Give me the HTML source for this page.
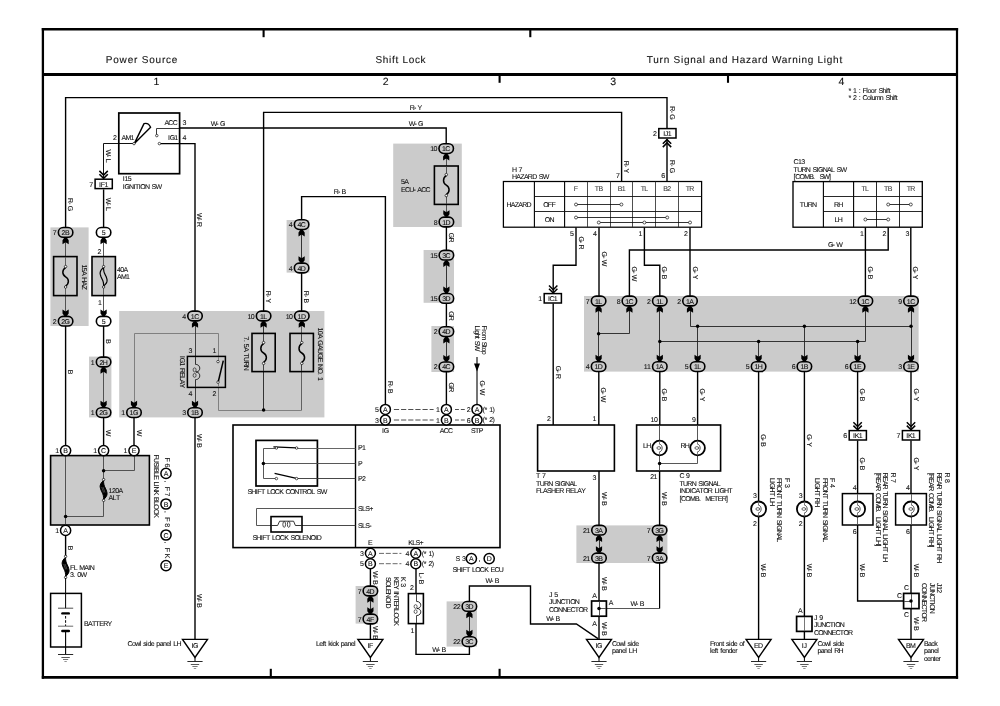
<!DOCTYPE html>
<html lang="en">
<head>
<meta charset="utf-8">
<title>Wiring Diagram - Power Source, Shift Lock, Turn Signal and Hazard Warning Light</title>
<style>
html,body{margin:0;padding:0;background:#fff;}
body{width:1000px;height:706px;overflow:hidden;}
svg{display:block;will-change:transform;}
svg text{font-family:"Liberation Sans",Arial,Helvetica,sans-serif;fill:#111;stroke:#111;stroke-width:0.1px;white-space:pre;}
svg text.h{stroke-width:0.1px;}
</style>
</head>
<body>
<svg width="1000" height="706" viewBox="0 0 1000 706" text-rendering="geometricPrecision">
<rect x="0" y="0" width="1000" height="706" fill="#fff"/>
<g id="frame">
<path d="M42.90 28.10 L42.90 678.70" fill="none" stroke="#000" stroke-width="2.3" />
<path d="M957.00 28.10 L957.00 678.70" fill="none" stroke="#000" stroke-width="2.2" />
<path d="M41.80 29.30 L958.10 29.30" fill="none" stroke="#000" stroke-width="2.5" />
<path d="M41.80 677.40 L958.10 677.40" fill="none" stroke="#000" stroke-width="2.6" />
<path d="M43.00 74.50 L957.00 74.50" fill="none" stroke="#000" stroke-width="2.8" />
<path d="M263.60 29.40 L263.60 37.20" fill="none" stroke="#000" stroke-width="2.1" />
<path d="M530.30 29.40 L530.30 37.20" fill="none" stroke="#000" stroke-width="2.1" />
<path d="M499.60 74.40 L499.60 82.80" fill="none" stroke="#000" stroke-width="2.1" />
<path d="M728.00 74.40 L728.00 82.80" fill="none" stroke="#000" stroke-width="2.1" />
<path d="M270.80 668.80 L270.80 677.00" fill="none" stroke="#000" stroke-width="2.1" />
<path d="M499.60 668.80 L499.60 677.00" fill="none" stroke="#000" stroke-width="2.1" />
<text font-size="10" x="105.80" y="63.30" textLength="71.60" class="h">Power Source</text>
<text font-size="10" x="375.40" y="63.30" textLength="50.20" class="h">Shift Lock</text>
<text font-size="10" x="646.80" y="63.30" textLength="195.40" class="h">Turn Signal and Hazard Warning Light</text>
<text font-size="10.5" x="153.48" y="85.20" >1</text>
<text font-size="10.5" x="382.68" y="85.20" >2</text>
<text font-size="10.5" x="610.28" y="85.20" >3</text>
<text font-size="10.5" x="838.48" y="85.20" >4</text>
<text font-size="7" x="848.4 850.72 853.03 856.33 858.64 860.3 862.61 866.24 867.56 870.87 874.18 876.16 878.47 882.44 885.75 887.07 888.73" y="92.60" >* 1 : Floor Shift</text>
<text font-size="7" x="848.4 850.72 853.03 856.33 858.64 860.3 862.61 866.9 870.21 871.54 874.84 879.8 883.11 885.42 889.39 892.7 894.02 895.67" y="99.80" >* 2 : Column Shift</text>
</g>
<g id="blocks">
<rect x="50.40" y="227.40" width="38.20" height="98.60" fill="#cbcbcb"/>
<rect x="89.00" y="356.60" width="22.40" height="60.80" fill="#cbcbcb"/>
<rect x="119.20" y="311.00" width="205.20" height="106.40" fill="#cbcbcb"/>
<rect x="286.60" y="220.00" width="22.80" height="52.60" fill="#cbcbcb"/>
<rect x="393.20" y="143.60" width="68.60" height="83.40" fill="#cbcbcb"/>
<rect x="423.60" y="250.00" width="30.40" height="52.80" fill="#cbcbcb"/>
<rect x="431.40" y="326.00" width="22.60" height="46.00" fill="#cbcbcb"/>
<rect x="584.00" y="296.00" width="334.60" height="75.60" fill="#cbcbcb"/>
<rect x="576.40" y="525.40" width="91.00" height="37.60" fill="#cbcbcb"/>
<rect x="355.60" y="586.00" width="22.40" height="37.60" fill="#cbcbcb"/>
<rect x="446.60" y="601.40" width="30.40" height="45.20" fill="#cbcbcb"/>
</g>
<g id="wires">
<path d="M65.60 228.00 L65.60 97.60 L667.00 97.60 L667.00 128.00" fill="none" stroke="#000" stroke-width="1.4" />
<path d="M667.00 139.00 L667.00 181.40" fill="none" stroke="#000" stroke-width="1.4" />
<path d="M134.00 143.50 L103.50 143.50 L103.50 178.60" fill="none" stroke="#111" stroke-width="1.0" />
<path d="M103.60 189.40 L103.60 228.00" fill="none" stroke="#000" stroke-width="1.4" />
<path d="M103.50 237.00 L103.50 317.00" fill="none" stroke="#444" stroke-width="0.9" />
<path d="M103.60 326.00 L103.60 357.00" fill="none" stroke="#000" stroke-width="1.4" />
<path d="M103.50 367.00 L103.50 408.00" fill="none" stroke="#444" stroke-width="0.9" />
<path d="M103.60 417.00 L103.60 446.00" fill="none" stroke="#000" stroke-width="1.4" />
<path d="M65.50 237.00 L65.50 317.00" fill="none" stroke="#444" stroke-width="0.9" />
<path d="M65.60 326.00 L65.60 446.00" fill="none" stroke="#000" stroke-width="1.4" />
<path d="M156.50 135.00 L156.50 128.50 L180.00 128.50" fill="none" stroke="#222" stroke-width="0.9" />
<path d="M180.00 128.00 L446.20 128.00 L446.20 144.00" fill="none" stroke="#000" stroke-width="1.4" />
<path d="M160.40 143.60 L195.00 143.60 L195.00 311.50" fill="none" stroke="#000" stroke-width="1.4" />
<path d="M263.60 311.50 L263.60 112.40 L621.60 112.40 L621.60 181.40" fill="none" stroke="#000" stroke-width="1.4" />
<path d="M301.60 220.00 L301.60 196.60 L385.40 196.60 L385.40 405.00" fill="none" stroke="#000" stroke-width="1.4" />
<path d="M301.60 272.60 L301.60 311.50" fill="none" stroke="#000" stroke-width="1.4" />
<path d="M301.50 229.00 L301.50 264.00" fill="none" stroke="#222" stroke-width="0.9" />
<path d="M195.00 417.00 L195.00 639.40" fill="none" stroke="#000" stroke-width="1.4" />
<path d="M134.00 417.00 L134.00 446.00" fill="none" stroke="#000" stroke-width="1.4" />
<path d="M446.50 153.00 L446.50 217.00" fill="none" stroke="#444" stroke-width="0.9" />
<path d="M446.40 226.50 L446.40 250.50" fill="none" stroke="#000" stroke-width="1.4" />
<path d="M446.50 260.00 L446.50 294.00" fill="none" stroke="#222" stroke-width="0.9" />
<path d="M446.40 303.00 L446.40 327.00" fill="none" stroke="#000" stroke-width="1.4" />
<path d="M446.50 336.00 L446.50 362.00" fill="none" stroke="#222" stroke-width="0.9" />
<path d="M446.40 371.50 L446.40 405.00" fill="none" stroke="#000" stroke-width="1.4" />
<path d="M477.00 357.00 L477.00 405.00" fill="none" stroke="#000" stroke-width="1.1" />
<polygon points="474,363.4 480,363.4 477,371.4" fill="#000"/>
<path d="M576.00 227.20 L576.00 265.20 L553.20 265.20 L553.20 293.40" fill="none" stroke="#000" stroke-width="1.4" />
<path d="M553.20 303.40 L553.20 425.00" fill="none" stroke="#000" stroke-width="1.4" />
<path d="M599.00 227.20 L599.00 296.40" fill="none" stroke="#000" stroke-width="1.4" />
<path d="M644.40 227.20 L644.40 265.20 L659.80 265.20 L659.80 296.40" fill="none" stroke="#000" stroke-width="1.4" />
<path d="M690.00 227.20 L690.00 296.40" fill="none" stroke="#000" stroke-width="1.4" />
<path d="M888.20 227.20 L888.20 250.00 L629.40 250.00 L629.40 296.40" fill="none" stroke="#000" stroke-width="1.4" />
<path d="M865.40 227.20 L865.40 296.40" fill="none" stroke="#000" stroke-width="1.4" />
<path d="M910.80 227.20 L910.80 296.40" fill="none" stroke="#000" stroke-width="1.4" />
<path d="M598.50 306.00 L598.50 362.00" fill="none" stroke="#222" stroke-width="0.9" />
<path d="M598.60 333.50 L629.50 333.50 L629.50 306.00" fill="none" stroke="#222" stroke-width="0.9" />
<path d="M659.50 306.00 L659.50 362.00" fill="none" stroke="#222" stroke-width="0.9" />
<path d="M659.80 341.50 L865.50 341.50 L865.50 306.00" fill="none" stroke="#222" stroke-width="0.9" />
<path d="M690.50 306.00 L690.50 326.50 L911.00 326.50" fill="none" stroke="#222" stroke-width="0.9" />
<path d="M697.50 326.20 L697.50 362.00" fill="none" stroke="#222" stroke-width="0.9" />
<path d="M804.50 326.20 L804.50 362.00" fill="none" stroke="#222" stroke-width="0.9" />
<path d="M758.50 341.40 L758.50 362.00" fill="none" stroke="#222" stroke-width="0.9" />
<path d="M857.50 341.40 L857.50 362.00" fill="none" stroke="#222" stroke-width="0.9" />
<path d="M911.50 306.00 L911.50 362.00" fill="none" stroke="#222" stroke-width="0.9" />
<circle cx="598.60" cy="333.80" r="1.75" fill="#000"/>
<circle cx="659.80" cy="341.40" r="1.75" fill="#000"/>
<circle cx="697.60" cy="326.20" r="1.75" fill="#000"/>
<circle cx="804.40" cy="326.20" r="1.75" fill="#000"/>
<circle cx="911.00" cy="326.20" r="1.75" fill="#000"/>
<circle cx="758.60" cy="341.40" r="1.75" fill="#000"/>
<circle cx="857.60" cy="341.40" r="1.75" fill="#000"/>
<path d="M598.80 371.40 L598.80 425.00" fill="none" stroke="#000" stroke-width="1.4" />
<path d="M659.80 371.40 L659.80 425.00" fill="none" stroke="#000" stroke-width="1.4" />
<path d="M697.60 371.40 L697.60 425.00" fill="none" stroke="#000" stroke-width="1.4" />
<path d="M758.60 371.40 L758.60 639.40" fill="none" stroke="#000" stroke-width="1.4" />
<path d="M804.40 371.40 L804.40 616.40" fill="none" stroke="#000" stroke-width="1.4" />
<path d="M857.60 371.40 L857.60 430.00" fill="none" stroke="#000" stroke-width="1.4" />
<path d="M857.60 440.60 L857.60 493.60" fill="none" stroke="#000" stroke-width="1.4" />
<path d="M857.60 525.00 L857.60 601.00 L903.40 601.00" fill="none" stroke="#000" stroke-width="1.4" />
<path d="M911.00 371.40 L911.00 430.00" fill="none" stroke="#000" stroke-width="1.4" />
<path d="M911.00 440.60 L911.00 493.60" fill="none" stroke="#000" stroke-width="1.4" />
<path d="M911.00 525.00 L911.00 593.40" fill="none" stroke="#000" stroke-width="1.4" />
<path d="M911.00 608.60 L911.00 639.40" fill="none" stroke="#000" stroke-width="1.4" />
<path d="M599.00 471.00 L599.00 525.60" fill="none" stroke="#000" stroke-width="1.4" />
<path d="M659.60 471.00 L659.60 525.60" fill="none" stroke="#000" stroke-width="1.4" />
<path d="M599.50 535.00 L599.50 553.00" fill="none" stroke="#222" stroke-width="0.9" />
<path d="M659.50 535.00 L659.50 553.00" fill="none" stroke="#222" stroke-width="0.9" />
<path d="M599.00 563.00 L599.00 601.00" fill="none" stroke="#000" stroke-width="1.4" />
<path d="M599.00 616.40 L599.00 639.40" fill="none" stroke="#000" stroke-width="1.4" />
<path d="M606.40 608.50 L659.60 608.50" fill="none" stroke="#444" stroke-width="0.9" />
<path d="M659.60 608.40 L659.60 563.00" fill="none" stroke="#000" stroke-width="1.2" />
<path d="M370.40 568.00 L370.40 586.40" fill="none" stroke="#000" stroke-width="1.4" />
<path d="M370.50 596.00 L370.50 614.00" fill="none" stroke="#222" stroke-width="0.9" />
<path d="M370.40 623.60 L370.40 639.40" fill="none" stroke="#000" stroke-width="1.4" />
<path d="M416.00 568.00 L416.00 593.60" fill="none" stroke="#000" stroke-width="1.4" />
<path d="M416.00 623.60 L416.00 654.40 L469.40 654.40 L469.40 646.40" fill="none" stroke="#000" stroke-width="1.4" />
<path d="M469.50 611.00 L469.50 637.00" fill="none" stroke="#222" stroke-width="0.9" />
<path d="M469.40 601.60 L469.40 586.00 L530.50 586.00 L530.50 624.00 L576.40 624.00 L598.00 638.60" fill="none" stroke="#000" stroke-width="1.4" />
</g>
<g id="ignition-sw">
<rect x="118.80" y="113.00" width="60.80" height="60.70" fill="none" stroke="#000" stroke-width="1.7" />
<path d="M134.4 143.4 L144.0 123.6 Q148.4 122.4 150.6 127.2 Z" fill="#fff" stroke="#000" stroke-width="1.4" stroke-linejoin="round"/>
<circle cx="134.00" cy="143.60" r="1.25" fill="#fff" stroke="#000" stroke-width="0.65"/>
<circle cx="156.80" cy="135.60" r="1.25" fill="#fff" stroke="#000" stroke-width="0.65"/>
<circle cx="159.40" cy="143.60" r="1.25" fill="#fff" stroke="#000" stroke-width="0.65"/>
<text font-size="7" x="164.4 168.37 172.67" y="124.80" >ACC</text>
<text font-size="7" x="121.6 125.57 130.53" y="140.20" >AM1</text>
<text font-size="7" x="168 169.65 174.28" y="140.20" >IG1</text>
<text font-size="7" x="182.40" y="124.80" >3</text>
<text font-size="7" x="182.40" y="140.20" >4</text>
<text font-size="7" x="113.00" y="140.20" >2</text>
<text font-size="7" x="122.8 124.45 127.76" y="181.20" >I15</text>
<text font-size="7" x="122.8 124.45 129.08 133.38 135.03 138.67 140.32 144.95 149.24 151.55 155.52" y="188.80" >IGNITION SW</text>
<path d="M99.40 174.20 L103.60 178.40 L107.80 174.20" fill="none" stroke="#000" stroke-width="1.5" />
<path d="M99.40 170.90 L103.60 175.10 L107.80 170.90" fill="none" stroke="#000" stroke-width="1.5" />
<rect x="95.10" y="179.20" width="17.20" height="9.40" fill="#fff" stroke="#000" stroke-width="1.5" />
<text font-size="7" x="99.11 100.76 104.4" y="186.50" >IF1</text>
<text font-size="7" x="89.21" y="186.50" >7</text>
<text font-size="7" transform="translate(106.20 156.00) rotate(90)" x="-6.56 -0.94 2.66" y="0.00" >W-L</text>
<text font-size="7" transform="translate(106.20 204.40) rotate(90)" x="-6.56 -0.94 2.66" y="0.00" >W-L</text>
<text font-size="7" transform="translate(68.20 204.60) rotate(90)" x="-6.67 -2.38 1.23" y="0.00" >R-G</text>
<text font-size="7" transform="translate(197.20 220.00) rotate(90)" x="-7.14 -1.52 2.08" y="0.00" >W-R</text>
<text font-size="7" x="210.67 216.28 219.89" y="125.60" >W-G</text>
<text font-size="7" x="408.87 414.48 418.09" y="125.60" >W-G</text>
<text font-size="7" x="409.71 414.01 417.62" y="109.90" >R-Y</text>
<text font-size="7" x="333.71 338.01 341.62" y="193.70" >R-B</text>
</g>
<g id="fuses-left">
<rect x="53.60" y="256.60" width="23.40" height="39.00" fill="#cbcbcb" stroke="#000" stroke-width="1.6" />
<path d="M65.50 257.00 L65.50 295.00" fill="none" stroke="#555" stroke-width="0.9" />
<rect x="64.40" y="266.60" width="2.4" height="20.40" fill="#cbcbcb"/>
<path d="M65.60 267.60 C61.90 269.86 61.90 274.76 65.60 276.80 S69.30 283.74 65.60 286.00" fill="none" stroke="#000" stroke-width="1.5"/>
<circle cx="65.60" cy="266.60" r="1.25" fill="#fff" stroke="#000" stroke-width="0.7"/>
<circle cx="65.60" cy="287.00" r="1.25" fill="#fff" stroke="#000" stroke-width="0.7"/>
<rect x="92.00" y="256.60" width="23.40" height="39.00" fill="#cbcbcb" stroke="#000" stroke-width="1.6" />
<path d="M103.50 257.00 L103.50 295.00" fill="none" stroke="#555" stroke-width="0.9" />
<rect x="102.40" y="266.60" width="2.4" height="20.40" fill="#cbcbcb"/>
<path d="M103.60 267.40 L102.10 268.90 L100.90 270.41 L100.30 271.91 L100.10 273.42 L100.40 274.92 L101.00 276.80 L101.90 278.68 L102.80 280.56 L103.35 282.44 L103.60 284.32 L103.60 286.20 L105.10 284.70 L106.30 283.19 L106.90 281.69 L107.10 280.18 L106.80 278.68 L106.20 276.80 L105.30 274.92 L104.40 273.04 L103.85 271.16 L103.60 269.28 Z" fill="#cbcbcb" stroke="#000" stroke-width="1.2" stroke-linejoin="round"/>
<circle cx="103.60" cy="266.60" r="1.2" fill="#fff" stroke="#000" stroke-width="0.7"/>
<circle cx="103.60" cy="287.00" r="1.2" fill="#fff" stroke="#000" stroke-width="0.7"/>
<text font-size="7" transform="translate(82.20 264.40) rotate(90)" x="0 3.31 6.62 10.59 12.9 17.19 21.16" y="0.00" >15A HAZ</text>
<text font-size="7" x="117 120.31 123.62" y="272.00" >40A</text>
<text font-size="7" x="117 120.97 125.93" y="279.40" >AM1</text>
<text font-size="7" x="97.60" y="254.20" >2</text>
<text font-size="7" x="98.00" y="305.20" >1</text>
<polygon points="65.60,237.60 66.80,237.60 68.70,240.20 68.70,244.20 65.60,242.20 62.50,244.20 62.50,240.20 64.40,237.60" fill="#000"/>
<polygon points="65.60,316.00 66.80,316.00 68.70,313.40 68.70,309.40 65.60,311.40 62.50,309.40 62.50,313.40 64.40,316.00" fill="#000"/>
<polygon points="103.60,237.60 104.80,237.60 106.70,240.20 106.70,244.20 103.60,242.20 100.50,244.20 100.50,240.20 102.40,237.60" fill="#000"/>
<polygon points="103.60,316.00 104.80,316.00 106.70,313.40 106.70,309.40 103.60,311.40 100.50,309.40 100.50,313.40 102.40,316.00" fill="#000"/>
<rect x="58.35" y="227.55" width="14.5" height="9.7" rx="4.85" fill="#cbcbcb" stroke="#000" stroke-width="1.6"/>
<text font-size="7" x="61.61 64.92" y="234.90" >2B</text>
<text font-size="7" x="52.86" y="234.90" >7</text>
<rect x="58.35" y="316.35" width="14.5" height="9.7" rx="4.85" fill="#cbcbcb" stroke="#000" stroke-width="1.6"/>
<text font-size="7" x="61.22 64.53" y="323.70" >2G</text>
<text font-size="7" x="52.86" y="323.70" >2</text>
<rect x="96.35" y="227.55" width="14.5" height="9.7" rx="4.85" fill="#fff" stroke="#000" stroke-width="1.6"/>
<text font-size="7" x="101.65" y="234.90" >5</text>
<rect x="96.35" y="316.35" width="14.5" height="9.7" rx="4.85" fill="#fff" stroke="#000" stroke-width="1.6"/>
<text font-size="7" x="101.65" y="323.70" >5</text>
<text font-size="7" transform="translate(106.20 341.60) rotate(90)" x="-2.33" y="0.00" >B</text>
<text font-size="7" transform="translate(68.20 372.00) rotate(90)" x="-2.33" y="0.00" >B</text>
<polygon points="103.60,367.20 104.80,367.20 106.70,369.80 106.70,373.80 103.60,371.80 100.50,373.80 100.50,369.80 102.40,367.20" fill="#000"/>
<polygon points="103.60,407.40 104.80,407.40 106.70,404.80 106.70,400.80 103.60,402.80 100.50,400.80 100.50,404.80 102.40,407.40" fill="#000"/>
<rect x="96.35" y="357.15" width="14.5" height="9.7" rx="4.85" fill="#cbcbcb" stroke="#000" stroke-width="1.6"/>
<text font-size="7" x="99.42 102.73" y="364.50" >2H</text>
<text font-size="7" x="90.86" y="364.50" >1</text>
<rect x="96.35" y="407.75" width="14.5" height="9.7" rx="4.85" fill="#cbcbcb" stroke="#000" stroke-width="1.6"/>
<text font-size="7" x="99.22 102.53" y="415.10" >2G</text>
<text font-size="7" x="90.86" y="415.10" >1</text>
<text font-size="7" transform="translate(106.20 433.00) rotate(90)" x="-3.30" y="0.00" >W</text>
<text font-size="7" transform="translate(136.60 433.00) rotate(90)" x="-3.30" y="0.00" >W</text>
</g>
<g id="relay-block">
<path d="M134.50 407.00 L134.50 333.50 L218.50 333.50 L218.50 361.40" fill="none" stroke="#777" stroke-width="0.9" />
<path d="M218.50 382.20 L218.50 410.50 L301.80 410.50" fill="none" stroke="#777" stroke-width="0.9" />
<path d="M301.50 410.00 L301.50 321.00" fill="none" stroke="#555" stroke-width="0.9" />
<path d="M263.50 321.00 L263.50 410.00" fill="none" stroke="#222" stroke-width="0.9" />
<path d="M195.50 321.00 L195.50 408.00" fill="none" stroke="#333" stroke-width="0.9" />
<rect x="187.40" y="356.40" width="38.00" height="31.00" fill="#cbcbcb" stroke="#000" stroke-width="1.5" />
<path d="M195.50 357.00 L195.50 364.40" fill="none" stroke="#222" stroke-width="0.9" />
<path d="M195.50 379.60 L195.50 387.00" fill="none" stroke="#222" stroke-width="0.9" />
<path d="M218.50 357.00 L218.50 360.60" fill="none" stroke="#777" stroke-width="0.9" />
<path d="M218.50 383.20 L218.50 387.00" fill="none" stroke="#777" stroke-width="0.9" />
<path d="M195.50 364.40 C201.10 364.40 201.10 372.00 195.90 372.00 C201.10 372.00 201.10 379.60 195.50 379.60" fill="none" stroke="#111" stroke-width="0.9"/>
<ellipse cx="194.60" cy="369.87" rx="1.5" ry="1.98" fill="none" stroke="#222" stroke-width="0.7"/>
<ellipse cx="194.60" cy="375.34" rx="1.5" ry="1.98" fill="none" stroke="#222" stroke-width="0.7"/>
<path d="M218.20 382.00 L223.30 360.60" fill="none" stroke="#000" stroke-width="1.5" />
<circle cx="218.00" cy="361.60" r="1.25" fill="#fff" stroke="#000" stroke-width="0.65"/>
<circle cx="218.00" cy="382.20" r="1.25" fill="#fff" stroke="#000" stroke-width="0.65"/>
<text font-size="7" x="188.60" y="353.00" >3</text>
<text font-size="7" x="212.40" y="353.00" >1</text>
<text font-size="7" x="188.60" y="396.00" >4</text>
<text font-size="7" x="212.40" y="396.00" >2</text>
<text font-size="7" transform="translate(180.10 356.00) rotate(90)" x="0 1.65 6.28 9.59 11.9 16.2 20.17 23.47 27.44" y="0.00" >IG1 RELAY</text>
<rect x="252.00" y="333.40" width="23.20" height="38.20" fill="#cbcbcb" stroke="#000" stroke-width="1.6" />
<rect x="290.00" y="333.40" width="23.40" height="38.20" fill="#cbcbcb" stroke="#000" stroke-width="1.6" />
<path d="M263.50 334.00 L263.50 371.00" fill="none" stroke="#333" stroke-width="0.9" />
<path d="M301.50 334.00 L301.50 371.00" fill="none" stroke="#333" stroke-width="0.9" />
<rect x="262.40" y="342.60" width="2.4" height="20.80" fill="#cbcbcb"/>
<path d="M263.60 343.60 C259.90 345.93 259.90 350.92 263.60 353.00 S267.30 360.07 263.60 362.40" fill="none" stroke="#000" stroke-width="1.5"/>
<circle cx="263.60" cy="342.60" r="1.25" fill="#fff" stroke="#000" stroke-width="0.7"/>
<circle cx="263.60" cy="363.40" r="1.25" fill="#fff" stroke="#000" stroke-width="0.7"/>
<rect x="300.60" y="342.60" width="2.4" height="20.80" fill="#cbcbcb"/>
<path d="M301.80 343.60 C298.10 345.93 298.10 350.92 301.80 353.00 S305.50 360.07 301.80 362.40" fill="none" stroke="#000" stroke-width="1.5"/>
<circle cx="301.80" cy="342.60" r="1.25" fill="#fff" stroke="#000" stroke-width="0.7"/>
<circle cx="301.80" cy="363.40" r="1.25" fill="#fff" stroke="#000" stroke-width="0.7"/>
<circle cx="263.60" cy="410.00" r="1.75" fill="#000"/>
<text font-size="7" transform="translate(244.00 336.60) rotate(90)" x="0 3.31 4.96 7.27 10.58 14.55 16.86 20.49 24.79 29.09" y="0.00" >7. 5A TURN</text>
<text font-size="7" transform="translate(318.20 327.40) rotate(90)" x="0 3.31 6.62 10.59 12.9 17.52 21.49 25.79 30.42 34.39 36.7 40.99 45.62 47.28 49.59" y="0.00" >10A GAUGE NO. 1</text>
<polygon points="195.00,321.20 196.20,321.20 198.10,323.80 198.10,327.80 195.00,325.80 191.90,327.80 191.90,323.80 193.80,321.20" fill="#000"/>
<polygon points="195.00,407.40 196.20,407.40 198.10,404.80 198.10,400.80 195.00,402.80 191.90,400.80 191.90,404.80 193.80,407.40" fill="#000"/>
<polygon points="134.00,407.40 135.20,407.40 137.10,404.80 137.10,400.80 134.00,402.80 130.90,400.80 130.90,404.80 132.80,407.40" fill="#000"/>
<polygon points="263.60,321.20 264.80,321.20 266.70,323.80 266.70,327.80 263.60,325.80 260.50,327.80 260.50,323.80 262.40,321.20" fill="#000"/>
<polygon points="301.80,321.20 303.00,321.20 304.90,323.80 304.90,327.80 301.80,325.80 298.70,327.80 298.70,323.80 300.60,321.20" fill="#000"/>
<rect x="187.75" y="311.15" width="14.5" height="9.7" rx="4.85" fill="#cbcbcb" stroke="#000" stroke-width="1.6"/>
<text font-size="7" x="190.82 194.13" y="318.50" >1C</text>
<text font-size="7" x="182.26" y="318.50" >4</text>
<rect x="256.35" y="311.15" width="14.5" height="9.7" rx="4.85" fill="#cbcbcb" stroke="#000" stroke-width="1.6"/>
<text font-size="7" x="260 263.31" y="318.50" >1L</text>
<text font-size="7" x="247.55 250.86" y="318.50" >10</text>
<rect x="294.55" y="311.15" width="14.5" height="9.7" rx="4.85" fill="#cbcbcb" stroke="#000" stroke-width="1.6"/>
<text font-size="7" x="297.62 300.93" y="318.50" >1D</text>
<text font-size="7" x="285.75 289.06" y="318.50" >10</text>
<rect x="126.75" y="407.75" width="14.5" height="9.7" rx="4.85" fill="#cbcbcb" stroke="#000" stroke-width="1.6"/>
<text font-size="7" x="129.62 132.93" y="415.10" >1G</text>
<text font-size="7" x="121.26" y="415.10" >1</text>
<rect x="187.75" y="407.75" width="14.5" height="9.7" rx="4.85" fill="#cbcbcb" stroke="#000" stroke-width="1.6"/>
<text font-size="7" x="191.01 194.32" y="415.10" >1B</text>
<text font-size="7" x="182.26" y="415.10" >3</text>
<text font-size="7" transform="translate(266.20 297.00) rotate(90)" x="-6.29 -1.99 1.62" y="0.00" >R-Y</text>
<text font-size="7" transform="translate(304.20 297.00) rotate(90)" x="-6.29 -1.99 1.62" y="0.00" >R-B</text>
<polygon points="301.60,229.80 302.80,229.80 304.70,232.40 304.70,236.40 301.60,234.40 298.50,236.40 298.50,232.40 300.40,229.80" fill="#000"/>
<polygon points="301.60,262.80 302.80,262.80 304.70,260.20 304.70,256.20 301.60,258.20 298.50,256.20 298.50,260.20 300.40,262.80" fill="#000"/>
<rect x="294.35" y="219.75" width="14.5" height="9.7" rx="4.85" fill="#cbcbcb" stroke="#000" stroke-width="1.6"/>
<text font-size="7" x="297.42 300.73" y="227.10" >4C</text>
<text font-size="7" x="288.86" y="227.10" >4</text>
<rect x="294.35" y="263.15" width="14.5" height="9.7" rx="4.85" fill="#cbcbcb" stroke="#000" stroke-width="1.6"/>
<text font-size="7" x="297.42 300.73" y="270.50" >4D</text>
<text font-size="7" x="288.86" y="270.50" >4</text>
</g>
<g id="ecu-acc">
<rect x="434.40" y="166.00" width="23.80" height="38.40" fill="#cbcbcb" stroke="#000" stroke-width="1.6" />
<path d="M446.50 166.50 L446.50 204.00" fill="none" stroke="#444" stroke-width="0.9" />
<rect x="445.10" y="174.60" width="2.4" height="21.00" fill="#cbcbcb"/>
<path d="M446.30 175.60 C442.60 177.96 442.60 183.00 446.30 185.10 S450.00 192.24 446.30 194.60" fill="none" stroke="#000" stroke-width="1.5"/>
<circle cx="446.30" cy="174.60" r="1.25" fill="#fff" stroke="#000" stroke-width="0.7"/>
<circle cx="446.30" cy="195.60" r="1.25" fill="#fff" stroke="#000" stroke-width="0.7"/>
<polygon points="446.20,153.80 447.40,153.80 449.30,156.40 449.30,160.40 446.20,158.40 443.10,160.40 443.10,156.40 445.00,153.80" fill="#000"/>
<polygon points="446.40,216.80 447.60,216.80 449.50,214.20 449.50,210.20 446.40,212.20 443.30,210.20 443.30,214.20 445.20,216.80" fill="#000"/>
<rect x="438.95" y="143.75" width="14.5" height="9.7" rx="4.85" fill="#cbcbcb" stroke="#000" stroke-width="1.6"/>
<text font-size="7" x="442.02 445.33" y="151.10" >1C</text>
<text font-size="7" x="430.15 433.46" y="151.10" >10</text>
<rect x="439.15" y="217.15" width="14.5" height="9.7" rx="4.85" fill="#cbcbcb" stroke="#000" stroke-width="1.6"/>
<text font-size="7" x="442.22 445.53" y="224.50" >1D</text>
<text font-size="7" x="433.66" y="224.50" >8</text>
<text font-size="7" x="401 404.31" y="184.40" >5A</text>
<text font-size="7" x="401 404.97 409.27 413.56 417.17 421.14 425.43" y="192.00" >ECU-ACC</text>
<polygon points="446.40,260.40 447.60,260.40 449.50,263.00 449.50,267.00 446.40,265.00 443.30,267.00 443.30,263.00 445.20,260.40" fill="#000"/>
<polygon points="446.40,293.20 447.60,293.20 449.50,290.60 449.50,286.60 446.40,288.60 443.30,286.60 443.30,290.60 445.20,293.20" fill="#000"/>
<rect x="439.15" y="250.35" width="14.5" height="9.7" rx="4.85" fill="#cbcbcb" stroke="#000" stroke-width="1.6"/>
<text font-size="7" x="442.22 445.53" y="257.70" >3C</text>
<text font-size="7" x="430.35 433.66" y="257.70" >15</text>
<rect x="439.15" y="293.55" width="14.5" height="9.7" rx="4.85" fill="#cbcbcb" stroke="#000" stroke-width="1.6"/>
<text font-size="7" x="442.22 445.53" y="300.90" >3D</text>
<text font-size="7" x="430.35 433.66" y="300.90" >15</text>
<polygon points="446.40,336.80 447.60,336.80 449.50,339.40 449.50,343.40 446.40,341.40 443.30,343.40 443.30,339.40 445.20,336.80" fill="#000"/>
<polygon points="446.40,361.60 447.60,361.60 449.50,359.00 449.50,355.00 446.40,357.00 443.30,355.00 443.30,359.00 445.20,361.60" fill="#000"/>
<rect x="439.15" y="326.75" width="14.5" height="9.7" rx="4.85" fill="#cbcbcb" stroke="#000" stroke-width="1.6"/>
<text font-size="7" x="442.22 445.53" y="334.10" >4D</text>
<text font-size="7" x="433.66" y="334.10" >2</text>
<rect x="439.15" y="361.95" width="14.5" height="9.7" rx="4.85" fill="#cbcbcb" stroke="#000" stroke-width="1.6"/>
<text font-size="7" x="442.22 445.53" y="369.30" >4C</text>
<text font-size="7" x="433.66" y="369.30" >2</text>
<text font-size="7" transform="translate(449.00 237.60) rotate(90)" x="-4.84 -0.21" y="0.00" >GR</text>
<text font-size="7" transform="translate(449.00 316.00) rotate(90)" x="-4.84 -0.21" y="0.00" >GR</text>
<text font-size="7" transform="translate(449.00 387.40) rotate(90)" x="-4.84 -0.21" y="0.00" >GR</text>
<text font-size="7" transform="translate(388.00 387.40) rotate(90)" x="-6.29 -1.99 1.62" y="0.00" >R-B</text>
<text font-size="7" transform="translate(479.60 388.00) rotate(90)" x="-7.42 -2.79 0.81" y="0.00" >G-W</text>
<text font-size="7" transform="translate(482.40 325.60) rotate(90)" x="0 3.63 5.62 8.93 13.88 16.19 20.16 21.81 25.12" y="0.00" >From Stop</text>
<text font-size="7" transform="translate(475.00 325.60) rotate(90)" x="0 3.31 4.63 7.94 11.25 12.9 15.21 19.18" y="0.00" >Light SW</text>
</g>
<g id="shift-lock-ecu">
<rect x="233.00" y="425.00" width="267.00" height="122.60" fill="#fff" stroke="#000" stroke-width="1.6" />
<path d="M355.50 425.00 L355.50 547.60" fill="none" stroke="#000" stroke-width="1.4" />
<path d="M393.9 409.5 L433.6 409.5" stroke="#222" stroke-width="0.8" stroke-dasharray="5.2 1.95" fill="none"/>
<path d="M393.9 420 L433.6 420" stroke="#222" stroke-width="0.8" stroke-dasharray="5.2 1.95" fill="none"/>
<path d="M455 409.5 L464.8 409.5" stroke="#222" stroke-width="0.8" stroke-dasharray="3.9 1.95" fill="none"/>
<path d="M455 420 L464.8 420" stroke="#222" stroke-width="0.8" stroke-dasharray="3.9 1.95" fill="none"/>
<circle cx="385.40" cy="409.40" r="5.0" fill="#fff" stroke="#000" stroke-width="1.5"/>
<text font-size="7" x="383.07" y="411.90" >A</text>
<text font-size="7" x="375.11" y="411.90" >5</text>
<circle cx="385.40" cy="420.00" r="5.0" fill="#fff" stroke="#000" stroke-width="1.5"/>
<text font-size="7" x="383.07" y="422.50" >B</text>
<text font-size="7" x="375.11" y="422.50" >3</text>
<circle cx="446.40" cy="409.40" r="5.0" fill="#fff" stroke="#000" stroke-width="1.5"/>
<text font-size="7" x="444.07" y="411.90" >A</text>
<text font-size="7" x="436.11" y="411.90" >1</text>
<circle cx="446.40" cy="420.00" r="5.0" fill="#fff" stroke="#000" stroke-width="1.5"/>
<text font-size="7" x="444.07" y="422.50" >B</text>
<text font-size="7" x="436.11" y="422.50" >1</text>
<circle cx="477.00" cy="409.40" r="5.0" fill="#fff" stroke="#000" stroke-width="1.5"/>
<text font-size="7" x="474.67" y="411.90" >A</text>
<text font-size="7" x="466.71" y="411.90" >2</text>
<circle cx="477.00" cy="420.00" r="5.0" fill="#fff" stroke="#000" stroke-width="1.5"/>
<text font-size="7" x="474.67" y="422.50" >B</text>
<text font-size="7" x="466.71" y="422.50" >6</text>
<text font-size="7" x="482.6 484.58 486.9 489.21 492.52" y="411.80" >(* 1)</text>
<text font-size="7" x="482.6 484.58 486.9 489.21 492.52" y="422.40" >(* 2)</text>
<text font-size="7" x="382.05 383.7" y="432.80" >IG</text>
<text font-size="7" x="439.74 443.71 448.01" y="432.80" >ACC</text>
<text font-size="7" x="471.06 475.03 478.67" y="432.80" >STP</text>
<text font-size="7" x="368.07" y="545.00" >E</text>
<text font-size="7" x="408.33 412.3 415.61 419.58" y="545.00" >KLS+</text>
<rect x="256.00" y="440.40" width="61.40" height="45.60" fill="none" stroke="#000" stroke-width="1.7" />
<path d="M276.40 448.50 L263.50 448.50 L263.50 478.50 L276.40 478.50" fill="none" stroke="#444" stroke-width="0.9" />
<path d="M296.60 448.50 L355.50 448.50" fill="none" stroke="#555" stroke-width="0.9" />
<path d="M263.40 463.50 L355.50 463.50" fill="none" stroke="#444" stroke-width="0.9" />
<path d="M296.60 478.50 L355.50 478.50" fill="none" stroke="#333" stroke-width="0.9" />
<circle cx="263.40" cy="463.40" r="1.75" fill="#000"/>
<path d="M273.40 446.80 L296.40 447.80" fill="none" stroke="#000" stroke-width="1.3" />
<path d="M274.60 473.40 L296.40 478.40" fill="none" stroke="#000" stroke-width="1.3" />
<circle cx="276.40" cy="448.00" r="1.25" fill="#fff" stroke="#000" stroke-width="0.65"/>
<circle cx="296.60" cy="448.00" r="1.25" fill="#fff" stroke="#000" stroke-width="0.65"/>
<circle cx="276.40" cy="478.60" r="1.25" fill="#fff" stroke="#000" stroke-width="0.65"/>
<circle cx="296.60" cy="478.60" r="1.25" fill="#fff" stroke="#000" stroke-width="0.65"/>
<text font-size="7" x="247.4 251.37 255.67 257.32 260.95 264.59 266.9 270.21 274.83 279.13 283.1 285.41 289.71 294.34 298.63 302.27 306.56 311.19 314.5 316.81 320.78" y="493.60" >SHIFT LOCK CONTROL SW</text>
<path d="M355.50 508.50 L256.50 508.50 L256.50 525.50 L271.00 525.50" fill="none" stroke="#444" stroke-width="0.9" />
<path d="M302.00 525.50 L355.50 525.50" fill="none" stroke="#333" stroke-width="0.9" />
<rect x="271.00" y="516.60" width="31.00" height="15.40" fill="none" stroke="#000" stroke-width="1.6" />
<path d="M271.5 525.5 H277.6 L279.6 521.2 H293.6 L295.4 525.5 H301.5" fill="none" stroke="#111" stroke-width="0.85"/>
<ellipse cx="284.2" cy="524.4" rx="1.35" ry="2.9" fill="none" stroke="#111" stroke-width="0.75"/>
<ellipse cx="288.7" cy="524.4" rx="1.35" ry="2.9" fill="none" stroke="#111" stroke-width="0.75"/>
<text font-size="7" x="252.4 256.37 260.67 262.32 265.95 269.59 271.9 275.21 279.83 284.13 288.1 290.41 294.38 299.01 302.32 306.28 310.58 315.21 316.86" y="539.60" >SHIFT LOCK SOLENOID</text>
<text font-size="7" x="358 361.97" y="450.40" >P1</text>
<text font-size="7" x="358.00" y="465.80" >P</text>
<text font-size="7" x="358 361.97" y="481.00" >P2</text>
<text font-size="7" x="358 361.97 365.28 369.25" y="511.40" >SLS+</text>
<text font-size="7" x="358 361.97 365.28 369.25" y="527.60" >SLS-</text>
<path d="M379 553.4 L401.4 553.4 M379 563.7 L401.4 563.7" stroke="#444" stroke-width="0.8" stroke-dasharray="5 1.8" fill="none"/>
<circle cx="370.40" cy="553.20" r="5.0" fill="#fff" stroke="#000" stroke-width="1.5"/>
<text font-size="7" x="368.07" y="555.70" >A</text>
<text font-size="7" x="360.11" y="555.70" >3</text>
<circle cx="370.40" cy="563.70" r="5.0" fill="#fff" stroke="#000" stroke-width="1.5"/>
<text font-size="7" x="368.07" y="566.20" >B</text>
<text font-size="7" x="360.11" y="566.20" >5</text>
<circle cx="415.80" cy="553.20" r="5.0" fill="#fff" stroke="#000" stroke-width="1.5"/>
<text font-size="7" x="413.47" y="555.70" >A</text>
<text font-size="7" x="405.51" y="555.70" >4</text>
<circle cx="415.80" cy="563.70" r="5.0" fill="#fff" stroke="#000" stroke-width="1.5"/>
<text font-size="7" x="413.47" y="566.20" >B</text>
<text font-size="7" x="405.51" y="566.20" >4</text>
<text font-size="7" x="421.8 423.78 426.1 428.41 431.72" y="556.00" >(* 1)</text>
<text font-size="7" x="421.8 423.78 426.1 428.41 431.72" y="566.00" >(* 2)</text>
<text font-size="7" x="455.6 459.57 461.88" y="561.00" >S 3</text>
<circle cx="471.40" cy="558.60" r="5.1" fill="#fff" stroke="#000" stroke-width="1.5"/>
<text font-size="7" x="469.07" y="561.10" >A</text>
<text font-size="7" x="478.60" y="561.00" >,</text>
<circle cx="489.20" cy="558.60" r="5.1" fill="#fff" stroke="#000" stroke-width="1.5"/>
<text font-size="7" x="486.67" y="561.10" >D</text>
<text font-size="7" x="452.4 456.37 460.67 462.32 465.95 469.59 471.9 475.21 479.83 484.13 488.1 490.41 494.38 498.68" y="572.00" >SHIFT LOCK ECU</text>
<text font-size="7" transform="translate(373.00 578.00) rotate(90)" x="-6.94 -1.33 2.28" y="0.00" >W-B</text>
<text font-size="7" transform="translate(373.00 633.00) rotate(90)" x="-6.94 -1.33 2.28" y="0.00" >W-B</text>
<text font-size="7" transform="translate(418.60 578.60) rotate(90)" x="-5.79 -2.48 1.12" y="0.00" >L-B</text>
<polygon points="370.40,596.20 371.60,596.20 373.50,598.80 373.50,602.80 370.40,600.80 367.30,602.80 367.30,598.80 369.20,596.20" fill="#000"/>
<polygon points="370.40,613.80 371.60,613.80 373.50,611.20 373.50,607.20 370.40,609.20 367.30,607.20 367.30,611.20 369.20,613.80" fill="#000"/>
<rect x="363.15" y="586.15" width="14.5" height="9.7" rx="4.85" fill="#cbcbcb" stroke="#000" stroke-width="1.6"/>
<text font-size="7" x="366.22 369.53" y="593.50" >4D</text>
<text font-size="7" x="357.66" y="593.50" >7</text>
<rect x="363.15" y="614.15" width="14.5" height="9.7" rx="4.85" fill="#cbcbcb" stroke="#000" stroke-width="1.6"/>
<text font-size="7" x="366.61 369.92" y="621.50" >4F</text>
<text font-size="7" x="357.66" y="621.50" >7</text>
<text font-size="7" transform="translate(401.40 577.00) rotate(90)" x="0 3.97 6.28" y="0.00" >K 3</text>
<text font-size="7" transform="translate(393.60 577.00) rotate(90)" x="0 3.97 7.94 11.91 14.22 15.87 20.17 23.8 27.77 32.07 35.38 40 44.3" y="0.00" >KEY INTERLOCK</text>
<text font-size="7" transform="translate(386.00 577.00) rotate(90)" x="0 3.97 8.6 11.91 15.87 20.17 24.8 26.45" y="0.00" >SOLENOID</text>
<rect x="408.40" y="593.60" width="15.00" height="30.00" fill="#fff" stroke="#000" stroke-width="1.6" />
<path d="M416.50 594.00 L416.50 601.40" fill="none" stroke="#333" stroke-width="0.9" />
<path d="M416.50 615.60 L416.50 623.00" fill="none" stroke="#333" stroke-width="0.9" />
<path d="M416.50 601.40 C422.10 601.40 422.10 608.50 416.90 608.50 C422.10 608.50 422.10 615.60 416.50 615.60" fill="none" stroke="#111" stroke-width="0.9"/>
<ellipse cx="415.60" cy="606.51" rx="1.5" ry="1.85" fill="none" stroke="#222" stroke-width="0.7"/>
<ellipse cx="415.60" cy="611.62" rx="1.5" ry="1.85" fill="none" stroke="#222" stroke-width="0.7"/>
<text font-size="7" x="410.00" y="590.20" >2</text>
<text font-size="7" x="410.40" y="632.60" >1</text>
<polygon points="469.40,611.60 470.60,611.60 472.50,614.20 472.50,618.20 469.40,616.20 466.30,618.20 466.30,614.20 468.20,611.60" fill="#000"/>
<polygon points="469.40,636.40 470.60,636.40 472.50,633.80 472.50,629.80 469.40,631.80 466.30,629.80 466.30,633.80 468.20,636.40" fill="#000"/>
<rect x="462.15" y="601.55" width="14.5" height="9.7" rx="4.85" fill="#cbcbcb" stroke="#000" stroke-width="1.6"/>
<text font-size="7" x="465.22 468.53" y="608.90" >3D</text>
<text font-size="7" x="453.35 456.66" y="608.90" >22</text>
<rect x="462.15" y="636.75" width="14.5" height="9.7" rx="4.85" fill="#cbcbcb" stroke="#000" stroke-width="1.6"/>
<text font-size="7" x="465.22 468.53" y="644.10" >3C</text>
<text font-size="7" x="453.35 456.66" y="644.10" >22</text>
<text font-size="7" x="485.46 491.07 494.68" y="583.40" >W-B</text>
<text font-size="7" x="432.26 437.87 441.48" y="651.60" >W-B</text>
<text font-size="7" x="546.26 551.87 555.48" y="621.00" >W-B</text>
<text font-size="7" x="316.02 319.33 322.64 324.29 325.94 328.25 331.23 332.55 335.52 338.5 340.81 344.12 347.43 350.74 354.04" y="646.00" >Left kick panel</text>
<polygon points="357.90,639.4 382.90,639.4 370.40,657.4" fill="#fff" stroke="#000" stroke-width="1.4" stroke-linejoin="miter"/>
<text font-size="7" x="367.44 369.09" y="647.60" >IF</text>
<path d="M370.40 657.40 L370.40 661.40" fill="none" stroke="#000" stroke-width="1.0" />
<path d="M362.80 661.50 L378.00 661.50" fill="none" stroke="#111" stroke-width="0.9" />
<path d="M366.20 664.50 L374.60 664.50" fill="none" stroke="#444" stroke-width="0.9" />
<path d="M367.80 666.50 L373.00 666.50" fill="none" stroke="#666" stroke-width="0.9" />
<path d="M369.20 668.50 L371.60 668.50" fill="none" stroke="#888" stroke-width="0.9" />
</g>
<g id="fusible-link-block">
<rect x="50.60" y="455.60" width="98.80" height="69.40" fill="#cbcbcb" stroke="#000" stroke-width="1.6" />
<path d="M65.50 456.00 L65.50 525.00" fill="none" stroke="#444" stroke-width="0.9" />
<path d="M65.60 516.50 L103.50 516.50 L103.50 500.40" fill="none" stroke="#444" stroke-width="0.9" />
<path d="M103.50 456.00 L103.50 479.60" fill="none" stroke="#444" stroke-width="0.9" />
<path d="M103.60 470.50 L134.50 470.50 L134.50 456.00" fill="none" stroke="#444" stroke-width="0.9" />
<circle cx="65.60" cy="516.60" r="1.75" fill="#000"/>
<circle cx="103.60" cy="470.80" r="1.75" fill="#000"/>
<rect x="102.40" y="479.60" width="2.4" height="20.80" fill="#cbcbcb"/>
<path d="M103.60 480.40 L102.10 481.94 L100.90 483.47 L100.30 485.01 L100.10 486.54 L100.40 488.08 L101.00 490.00 L101.90 491.92 L102.80 493.84 L103.35 495.76 L103.60 497.68 L103.60 499.60 L105.10 498.06 L106.30 496.53 L106.90 494.99 L107.10 493.46 L106.80 491.92 L106.20 490.00 L105.30 488.08 L104.40 486.16 L103.85 484.24 L103.60 482.32 Z" fill="#000" stroke="#000" stroke-width="1.0" stroke-linejoin="round"/>
<path d="M101.70 487.09 L103.60 492.50" stroke="#aaa" stroke-width="0.4" fill="none"/>
<path d="M103.10 487.09 L105.00 492.50" stroke="#aaa" stroke-width="0.4" fill="none"/>
<circle cx="103.60" cy="479.60" r="1.2" fill="#fff" stroke="#000" stroke-width="0.7"/>
<circle cx="103.60" cy="500.40" r="1.2" fill="#fff" stroke="#000" stroke-width="0.7"/>
<text font-size="7" x="108.6 111.91 115.22 118.53" y="493.00" >120A</text>
<text font-size="7" x="108.6 112.57 115.88" y="500.40" >ALT</text>
<circle cx="65.60" cy="450.60" r="5.1" fill="#fff" stroke="#000" stroke-width="1.5"/>
<text font-size="7" x="63.27" y="453.10" >B</text>
<text font-size="7" x="55.21" y="453.10" >1</text>
<circle cx="103.60" cy="450.60" r="5.1" fill="#fff" stroke="#000" stroke-width="1.5"/>
<text font-size="7" x="101.07" y="453.10" >C</text>
<text font-size="7" x="93.21" y="453.10" >1</text>
<circle cx="134.00" cy="450.60" r="5.1" fill="#fff" stroke="#000" stroke-width="1.5"/>
<text font-size="7" x="131.67" y="453.10" >E</text>
<text font-size="7" x="123.61" y="453.10" >1</text>
<circle cx="65.60" cy="530.40" r="5.1" fill="#fff" stroke="#000" stroke-width="1.5"/>
<text font-size="7" x="63.27" y="532.90" >A</text>
<text font-size="7" x="55.21" y="532.90" >1</text>
<text font-size="7" transform="translate(153.60 454.40) rotate(90)" x="0 3.63 7.93 11.9 13.55 17.52 20.83 24.8 27.11 30.42 32.07 36.37 40.34 42.65 46.62 49.93 54.55 58.85" y="0.00" >FUSIBLE LINK BLOCK</text>
<text font-size="7" transform="translate(164.60 457.60) rotate(90)" x="0 3.63 5.94" y="0.00" >F 6</text>
<circle cx="166.00" cy="473.40" r="5.1" fill="#fff" stroke="#000" stroke-width="1.5"/>
<text font-size="7" x="163.67" y="475.90" >A</text>
<text font-size="7" transform="translate(164.60 480.40) rotate(90)" x="0 1.65 3.96 6.27 9.91 12.22" y="0.00" >,  F 7</text>
<circle cx="166.00" cy="504.00" r="5.1" fill="#fff" stroke="#000" stroke-width="1.5"/>
<text font-size="7" x="163.67" y="506.50" >B</text>
<text font-size="7" transform="translate(164.60 511.00) rotate(90)" x="0 1.65 3.96 6.27 9.91 12.22" y="0.00" >,  F 8</text>
<circle cx="166.00" cy="535.00" r="5.1" fill="#fff" stroke="#000" stroke-width="1.5"/>
<text font-size="7" x="163.47" y="537.50" >C</text>
<text font-size="7" transform="translate(164.60 541.60) rotate(90)" x="0 1.65 3.96 6.27 9.91 12.22" y="0.00" >,  F K</text>
<circle cx="166.00" cy="565.60" r="5.1" fill="#fff" stroke="#000" stroke-width="1.5"/>
<text font-size="7" x="163.67" y="568.10" >E</text>
<path d="M65.60 535.00 L65.60 556.00" fill="none" stroke="#000" stroke-width="1.4" />
<path d="M65.60 557.20 L64.10 558.75 L62.90 560.30 L62.30 561.86 L62.10 563.41 L62.40 564.96 L63.00 566.90 L63.90 568.84 L64.80 570.78 L65.35 572.72 L65.60 574.66 L65.60 576.60 L67.10 575.05 L68.30 573.50 L68.90 571.94 L69.10 570.39 L68.80 568.84 L68.20 566.90 L67.30 564.96 L66.40 563.02 L65.85 561.08 L65.60 559.14 Z" fill="#000" stroke="#000" stroke-width="1.0" stroke-linejoin="round"/>
<path d="M63.70 563.96 L65.60 569.42" stroke="#aaa" stroke-width="0.4" fill="none"/>
<path d="M65.10 563.96 L67.00 569.42" stroke="#aaa" stroke-width="0.4" fill="none"/>
<circle cx="65.60" cy="556.40" r="1.2" fill="#fff" stroke="#000" stroke-width="0.7"/>
<circle cx="65.60" cy="577.40" r="1.2" fill="#fff" stroke="#000" stroke-width="0.7"/>
<path d="M65.60 578.00 L65.60 608.20" fill="none" stroke="#000" stroke-width="1.0" />
<text font-size="7" transform="translate(68.20 548.00) rotate(90)" x="-2.33" y="0.00" >B</text>
<text font-size="7" x="70 73.63 76.94 79.25 84.21 88.18 89.83" y="569.60" >FL MAIN</text>
<text font-size="7" x="70 73.31 74.96 77.27 80.58" y="577.40" >3. 0W</text>
<rect x="50.60" y="593.40" width="30.80" height="53.60" fill="#fff" stroke="#000" stroke-width="1.5" />
<path d="M65.60 593.40 L65.60 608.20" fill="none" stroke="#000" stroke-width="1.0" />
<path d="M58.00 608.20 L73.20 608.20" fill="none" stroke="#222" stroke-width="0.8" />
<path d="M62.40 613.40 L68.80 613.40" fill="none" stroke="#000" stroke-width="2.4" stroke-linecap="round"/>
<path d="M65.6 616 L65.6 626" stroke="#000" stroke-width="1" stroke-dasharray="2.6 1.6" fill="none"/>
<path d="M58.00 626.20 L73.20 626.20" fill="none" stroke="#444" stroke-width="0.8" />
<path d="M62.40 631.00 L68.80 631.00" fill="none" stroke="#000" stroke-width="2.6" stroke-linecap="round"/>
<path d="M65.60 632.00 L65.60 654.20" fill="none" stroke="#000" stroke-width="1.1" />
<path d="M58.00 654.50 L73.20 654.50" fill="none" stroke="#111" stroke-width="0.9" />
<path d="M61.40 657.50 L69.80 657.50" fill="none" stroke="#444" stroke-width="0.9" />
<path d="M63.00 659.50 L68.20 659.50" fill="none" stroke="#666" stroke-width="0.9" />
<path d="M64.40 661.50 L66.80 661.50" fill="none" stroke="#888" stroke-width="0.9" />
<text font-size="7" x="84 87.97 91.94 95.57 99.21 103.17 107.47" y="626.40" >BATTERY</text>
<text font-size="7" transform="translate(197.20 441.00) rotate(90)" x="-6.94 -1.33 2.28" y="0.00" >W-B</text>
<text font-size="7" transform="translate(197.20 601.00) rotate(90)" x="-6.94 -1.33 2.28" y="0.00" >W-B</text>
<text font-size="7" x="127.61 131.9 135.21 139.51 140.83 143.14 146.12 147.44 150.75 154.06 156.37 159.68 162.99 166.29 169.6 170.93 173.24 176.54" y="646.00" >Cowl side panel LH</text>
<polygon points="182.50,639.4 207.50,639.4 195.00,657.4" fill="#fff" stroke="#000" stroke-width="1.4" stroke-linejoin="miter"/>
<text font-size="7" x="191.45 193.1" y="647.60" >IG</text>
<path d="M195.00 657.40 L195.00 661.40" fill="none" stroke="#000" stroke-width="1.0" />
<path d="M187.40 661.50 L202.60 661.50" fill="none" stroke="#111" stroke-width="0.9" />
<path d="M190.80 664.50 L199.20 664.50" fill="none" stroke="#444" stroke-width="0.9" />
<path d="M192.40 666.50 L197.60 666.50" fill="none" stroke="#666" stroke-width="0.9" />
<path d="M193.80 668.50 L196.20 668.50" fill="none" stroke="#888" stroke-width="0.9" />
</g>
<g id="hazard-sw">
<rect x="503.40" y="181.50" width="198.20" height="45.70" fill="#fff" stroke="#000" stroke-width="1.25" />
<path d="M534.40 181.50 L534.40 227.20" fill="none" stroke="#000" stroke-width="1.1" />
<path d="M564.60 181.50 L564.60 227.20" fill="none" stroke="#000" stroke-width="1.1" />
<path d="M587.50 181.50 L587.50 227.20" fill="none" stroke="#222" stroke-width="0.8" />
<path d="M610.50 181.50 L610.50 227.20" fill="none" stroke="#222" stroke-width="0.8" />
<path d="M632.50 181.50 L632.50 227.20" fill="none" stroke="#222" stroke-width="0.8" />
<path d="M655.50 181.50 L655.50 227.20" fill="none" stroke="#222" stroke-width="0.8" />
<path d="M678.50 181.50 L678.50 227.20" fill="none" stroke="#222" stroke-width="0.8" />
<path d="M534.40 196.50 L701.60 196.50" fill="none" stroke="#111" stroke-width="0.9" />
<path d="M534.40 211.50 L701.60 211.50" fill="none" stroke="#111" stroke-width="0.9" />
<text font-size="7" x="512 516.3 518.61" y="171.60" >H 7</text>
<text font-size="7" x="512 516.3 520.27 523.9 527.87 532.17 536.46 538.77 542.74" y="179.40" >HAZARD SW</text>
<text font-size="7" x="506.39 510.69 514.66 518.29 522.26 526.56" y="206.80" >HAZARD</text>
<text font-size="7" x="543.13 547.76 551.39" y="206.80" >OFF</text>
<text font-size="7" x="544.76 549.39" y="222.00" >ON</text>
<text font-size="7" style="fill:#444;stroke:#444" x="573.86" y="191.40" >F</text>
<text font-size="7" style="fill:#444;stroke:#444" x="594.85 598.48" y="191.40" >TB</text>
<text font-size="7" style="fill:#444;stroke:#444" x="617.67 621.64" y="191.40" >B1</text>
<text font-size="7" style="fill:#444;stroke:#444" x="640.64 644.27" y="191.40" >TL</text>
<text font-size="7" style="fill:#444;stroke:#444" x="663.27 667.24" y="191.40" >B2</text>
<text font-size="7" style="fill:#444;stroke:#444" x="685.66 689.29" y="191.40" >TR</text>
<path d="M576.00 204.50 L621.40 204.50" fill="none" stroke="#000" stroke-width="0.8" />
<circle cx="576.00" cy="204.50" r="1.5" fill="#fff" stroke="#000" stroke-width="0.65"/>
<circle cx="621.40" cy="204.50" r="1.5" fill="#fff" stroke="#000" stroke-width="0.65"/>
<path d="M576.00 217.50 L667.20 217.50" fill="none" stroke="#000" stroke-width="0.8" />
<circle cx="576.00" cy="217.50" r="1.5" fill="#fff" stroke="#000" stroke-width="0.65"/>
<circle cx="667.20" cy="217.50" r="1.5" fill="#fff" stroke="#000" stroke-width="0.65"/>
<path d="M598.80 222.50 L690.00 222.50" fill="none" stroke="#000" stroke-width="0.8" />
<circle cx="598.80" cy="222.50" r="1.5" fill="#fff" stroke="#000" stroke-width="0.65"/>
<circle cx="644.40" cy="222.50" r="1.5" fill="#fff" stroke="#000" stroke-width="0.65"/>
<circle cx="690.00" cy="222.50" r="1.5" fill="#fff" stroke="#000" stroke-width="0.65"/>
<text font-size="7" x="570.00" y="236.00" >5</text>
<text font-size="7" x="593.00" y="236.00" >4</text>
<text font-size="7" x="638.60" y="236.00" >1</text>
<text font-size="7" x="684.00" y="236.00" >2</text>
<text font-size="7" x="616.00" y="177.60" >7</text>
<text font-size="7" x="661.20" y="177.60" >6</text>
<path d="M662.80 143.80 L667.00 139.60 L671.20 143.80" fill="none" stroke="#000" stroke-width="1.5" />
<path d="M662.80 147.10 L667.00 142.90 L671.20 147.10" fill="none" stroke="#000" stroke-width="1.5" />
<rect x="658.80" y="128.60" width="17.20" height="9.40" fill="#fff" stroke="#000" stroke-width="1.5" />
<text font-size="7" x="663.14 664.79 667.77" y="135.90" >IJ1</text>
<text font-size="7" x="652.91" y="135.90" >2</text>
<text font-size="7" transform="translate(669.60 113.00) rotate(90)" x="-6.67 -2.38 1.23" y="0.00" >R-G</text>
<text font-size="7" transform="translate(669.60 166.60) rotate(90)" x="-6.67 -2.38 1.23" y="0.00" >R-G</text>
<text font-size="7" transform="translate(624.20 167.00) rotate(90)" x="-6.29 -1.99 1.62" y="0.00" >R-Y</text>
<text font-size="7" transform="translate(578.60 243.00) rotate(90)" x="-6.64 -2.02 1.59" y="0.00" >G-R</text>
<text font-size="7" transform="translate(601.60 259.00) rotate(90)" x="-7.42 -2.79 0.81" y="0.00" >G-W</text>
<text font-size="7" transform="translate(632.00 274.00) rotate(90)" x="-7.42 -2.79 0.81" y="0.00" >G-W</text>
<text font-size="7" transform="translate(662.40 273.00) rotate(90)" x="-6.45 -1.82 1.78" y="0.00" >G-B</text>
<text font-size="7" transform="translate(692.60 273.00) rotate(90)" x="-6.45 -1.82 1.78" y="0.00" >G-Y</text>
<path d="M549.00 288.80 L553.20 293.00 L557.40 288.80" fill="none" stroke="#000" stroke-width="1.5" />
<path d="M549.00 285.50 L553.20 289.70 L557.40 285.50" fill="none" stroke="#000" stroke-width="1.5" />
<rect x="544.20" y="293.60" width="17.20" height="9.40" fill="#fff" stroke="#000" stroke-width="1.5" />
<text font-size="7" x="547.88 549.53 553.83" y="300.90" >IC1</text>
<text font-size="7" x="538.31" y="300.90" >1</text>
<text font-size="7" transform="translate(555.80 372.40) rotate(90)" x="-6.64 -2.02 1.59" y="0.00" >G-R</text>
</g>
<g id="turn-signal-sw">
<rect x="793.00" y="181.60" width="129.30" height="45.60" fill="#fff" stroke="#000" stroke-width="1.35" />
<path d="M823.40 181.60 L823.40 227.20" fill="none" stroke="#000" stroke-width="1.1" />
<path d="M853.60 181.60 L853.60 227.20" fill="none" stroke="#000" stroke-width="1.1" />
<path d="M876.50 181.60 L876.50 227.20" fill="none" stroke="#111" stroke-width="0.9" />
<path d="M899.50 181.60 L899.50 227.20" fill="none" stroke="#111" stroke-width="0.9" />
<path d="M823.40 196.50 L922.30 196.50" fill="none" stroke="#111" stroke-width="0.9" />
<path d="M823.40 211.50 L922.30 211.50" fill="none" stroke="#111" stroke-width="0.9" />
<text font-size="7" x="793.6 797.9 801.21" y="164.40" >C13</text>
<text font-size="7" x="793.6 797.23 801.53 805.83 810.13 812.44 816.4 818.06 822.69 826.98 830.95 834.26 836.57 840.54" y="172.00" >TURN SIGNAL SW</text>
<text font-size="7" x="793.6 795.25 799.55 804.18 809.13 813.1 814.76 817.07 819.38 823.34 828.96" y="179.40" >[COMB.  SW]</text>
<text font-size="7" x="799.76 803.39 807.69 811.99" y="206.80" >TURN</text>
<text font-size="7" x="833.92 838.22" y="206.80" >RH</text>
<text font-size="7" x="834.42 837.73" y="222.00" >LH</text>
<text font-size="7" style="fill:#444;stroke:#444" x="861.44 865.07" y="191.40" >TL</text>
<text font-size="7" style="fill:#444;stroke:#444" x="884.05 887.68" y="191.40" >TB</text>
<text font-size="7" style="fill:#444;stroke:#444" x="906.66 910.29" y="191.40" >TR</text>
<path d="M888.20 204.50 L910.80 204.50" fill="none" stroke="#000" stroke-width="0.8" />
<circle cx="888.20" cy="204.50" r="1.5" fill="#fff" stroke="#000" stroke-width="0.65"/>
<circle cx="910.80" cy="204.50" r="1.5" fill="#fff" stroke="#000" stroke-width="0.65"/>
<path d="M865.40 219.50 L888.20 219.50" fill="none" stroke="#000" stroke-width="0.8" />
<circle cx="865.40" cy="219.50" r="1.5" fill="#fff" stroke="#000" stroke-width="0.65"/>
<circle cx="888.20" cy="219.50" r="1.5" fill="#fff" stroke="#000" stroke-width="0.65"/>
<text font-size="7" x="860.00" y="236.00" >1</text>
<text font-size="7" x="882.40" y="236.00" >2</text>
<text font-size="7" x="905.60" y="236.00" >3</text>
<text font-size="7" x="827.98 832.61 836.21" y="247.00" >G-W</text>
<text font-size="7" transform="translate(868.00 273.00) rotate(90)" x="-6.45 -1.82 1.78" y="0.00" >G-B</text>
<text font-size="7" transform="translate(913.40 273.00) rotate(90)" x="-6.45 -1.82 1.78" y="0.00" >G-Y</text>
</g>
<g id="junction-block">
<polygon points="598.60,306.20 599.80,306.20 601.70,308.80 601.70,312.80 598.60,310.80 595.50,312.80 595.50,308.80 597.40,306.20" fill="#000"/>
<polygon points="629.40,306.20 630.60,306.20 632.50,308.80 632.50,312.80 629.40,310.80 626.30,312.80 626.30,308.80 628.20,306.20" fill="#000"/>
<polygon points="659.80,306.20 661.00,306.20 662.90,308.80 662.90,312.80 659.80,310.80 656.70,312.80 656.70,308.80 658.60,306.20" fill="#000"/>
<polygon points="690.00,306.20 691.20,306.20 693.10,308.80 693.10,312.80 690.00,310.80 686.90,312.80 686.90,308.80 688.80,306.20" fill="#000"/>
<polygon points="865.40,306.20 866.60,306.20 868.50,308.80 868.50,312.80 865.40,310.80 862.30,312.80 862.30,308.80 864.20,306.20" fill="#000"/>
<polygon points="911.00,306.20 912.20,306.20 914.10,308.80 914.10,312.80 911.00,310.80 907.90,312.80 907.90,308.80 909.80,306.20" fill="#000"/>
<polygon points="598.60,361.40 599.80,361.40 601.70,358.80 601.70,354.80 598.60,356.80 595.50,354.80 595.50,358.80 597.40,361.40" fill="#000"/>
<polygon points="659.80,361.40 661.00,361.40 662.90,358.80 662.90,354.80 659.80,356.80 656.70,354.80 656.70,358.80 658.60,361.40" fill="#000"/>
<polygon points="697.60,361.40 698.80,361.40 700.70,358.80 700.70,354.80 697.60,356.80 694.50,354.80 694.50,358.80 696.40,361.40" fill="#000"/>
<polygon points="758.60,361.40 759.80,361.40 761.70,358.80 761.70,354.80 758.60,356.80 755.50,354.80 755.50,358.80 757.40,361.40" fill="#000"/>
<polygon points="804.40,361.40 805.60,361.40 807.50,358.80 807.50,354.80 804.40,356.80 801.30,354.80 801.30,358.80 803.20,361.40" fill="#000"/>
<polygon points="857.60,361.40 858.80,361.40 860.70,358.80 860.70,354.80 857.60,356.80 854.50,354.80 854.50,358.80 856.40,361.40" fill="#000"/>
<polygon points="911.00,361.40 912.20,361.40 914.10,358.80 914.10,354.80 911.00,356.80 907.90,354.80 907.90,358.80 909.80,361.40" fill="#000"/>
<rect x="591.35" y="296.15" width="14.5" height="9.7" rx="4.85" fill="#cbcbcb" stroke="#000" stroke-width="1.6"/>
<text font-size="7" x="595 598.31" y="303.50" >1L</text>
<text font-size="7" x="585.86" y="303.50" >7</text>
<rect x="622.15" y="296.15" width="14.5" height="9.7" rx="4.85" fill="#cbcbcb" stroke="#000" stroke-width="1.6"/>
<text font-size="7" x="625.22 628.53" y="303.50" >1C</text>
<text font-size="7" x="616.66" y="303.50" >8</text>
<rect x="652.55" y="296.15" width="14.5" height="9.7" rx="4.85" fill="#cbcbcb" stroke="#000" stroke-width="1.6"/>
<text font-size="7" x="656.2 659.51" y="303.50" >1L</text>
<text font-size="7" x="647.06" y="303.50" >2</text>
<rect x="682.75" y="296.15" width="14.5" height="9.7" rx="4.85" fill="#cbcbcb" stroke="#000" stroke-width="1.6"/>
<text font-size="7" x="686.01 689.32" y="303.50" >1A</text>
<text font-size="7" x="677.26" y="303.50" >2</text>
<rect x="858.15" y="296.15" width="14.5" height="9.7" rx="4.85" fill="#cbcbcb" stroke="#000" stroke-width="1.6"/>
<text font-size="7" x="861.22 864.53" y="303.50" >1C</text>
<text font-size="7" x="849.35 852.66" y="303.50" >12</text>
<rect x="903.75" y="296.15" width="14.5" height="9.7" rx="4.85" fill="#cbcbcb" stroke="#000" stroke-width="1.6"/>
<text font-size="7" x="906.82 910.13" y="303.50" >1C</text>
<text font-size="7" x="898.26" y="303.50" >9</text>
<rect x="591.35" y="361.75" width="14.5" height="9.7" rx="4.85" fill="#cbcbcb" stroke="#000" stroke-width="1.6"/>
<text font-size="7" x="594.42 597.73" y="369.10" >1D</text>
<text font-size="7" x="585.86" y="369.10" >4</text>
<rect x="652.55" y="361.75" width="14.5" height="9.7" rx="4.85" fill="#cbcbcb" stroke="#000" stroke-width="1.6"/>
<text font-size="7" x="655.81 659.12" y="369.10" >1A</text>
<text font-size="7" x="643.75 647.06" y="369.10" >11</text>
<rect x="690.35" y="361.75" width="14.5" height="9.7" rx="4.85" fill="#cbcbcb" stroke="#000" stroke-width="1.6"/>
<text font-size="7" x="694 697.31" y="369.10" >1L</text>
<text font-size="7" x="684.86" y="369.10" >5</text>
<rect x="751.35" y="361.75" width="14.5" height="9.7" rx="4.85" fill="#cbcbcb" stroke="#000" stroke-width="1.6"/>
<text font-size="7" x="754.42 757.73" y="369.10" >1H</text>
<text font-size="7" x="745.86" y="369.10" >5</text>
<rect x="797.15" y="361.75" width="14.5" height="9.7" rx="4.85" fill="#cbcbcb" stroke="#000" stroke-width="1.6"/>
<text font-size="7" x="800.41 803.72" y="369.10" >1B</text>
<text font-size="7" x="791.66" y="369.10" >6</text>
<rect x="850.35" y="361.75" width="14.5" height="9.7" rx="4.85" fill="#cbcbcb" stroke="#000" stroke-width="1.6"/>
<text font-size="7" x="853.61 856.92" y="369.10" >1E</text>
<text font-size="7" x="844.86" y="369.10" >6</text>
<rect x="903.75" y="361.75" width="14.5" height="9.7" rx="4.85" fill="#cbcbcb" stroke="#000" stroke-width="1.6"/>
<text font-size="7" x="907.01 910.32" y="369.10" >1E</text>
<text font-size="7" x="898.26" y="369.10" >3</text>
<text font-size="7" transform="translate(601.40 395.00) rotate(90)" x="-7.42 -2.79 0.81" y="0.00" >G-W</text>
<text font-size="7" transform="translate(662.40 395.00) rotate(90)" x="-6.45 -1.82 1.78" y="0.00" >G-B</text>
<text font-size="7" transform="translate(700.20 395.00) rotate(90)" x="-6.45 -1.82 1.78" y="0.00" >G-Y</text>
<text font-size="7" transform="translate(761.20 440.60) rotate(90)" x="-6.45 -1.82 1.78" y="0.00" >G-B</text>
<text font-size="7" transform="translate(807.00 440.60) rotate(90)" x="-6.45 -1.82 1.78" y="0.00" >G-Y</text>
<text font-size="7" transform="translate(860.20 395.00) rotate(90)" x="-6.45 -1.82 1.78" y="0.00" >G-B</text>
<text font-size="7" transform="translate(913.60 395.00) rotate(90)" x="-6.45 -1.82 1.78" y="0.00" >G-Y</text>
<text font-size="7" transform="translate(860.20 464.00) rotate(90)" x="-6.45 -1.82 1.78" y="0.00" >G-B</text>
<text font-size="7" transform="translate(913.60 464.00) rotate(90)" x="-6.45 -1.82 1.78" y="0.00" >G-Y</text>
<path d="M853.40 425.60 L857.60 429.80 L861.80 425.60" fill="none" stroke="#000" stroke-width="1.5" />
<path d="M853.40 422.30 L857.60 426.50 L861.80 422.30" fill="none" stroke="#000" stroke-width="1.5" />
<path d="M906.80 425.60 L911.00 429.80 L915.20 425.60" fill="none" stroke="#000" stroke-width="1.5" />
<path d="M906.80 422.30 L911.00 426.50 L915.20 422.30" fill="none" stroke="#000" stroke-width="1.5" />
<rect x="849.20" y="430.60" width="17.20" height="9.40" fill="#fff" stroke="#000" stroke-width="1.5" />
<text font-size="7" x="853.04 854.7 858.66" y="437.90" >IK1</text>
<text font-size="7" x="843.31" y="437.90" >6</text>
<rect x="902.40" y="430.60" width="17.20" height="9.40" fill="#fff" stroke="#000" stroke-width="1.5" />
<text font-size="7" x="906.24 907.9 911.86" y="437.90" >IK1</text>
<text font-size="7" x="896.51" y="437.90" >7</text>
</g>
<g id="flasher-indicator">
<rect x="537.60" y="425.00" width="76.80" height="46.00" fill="#fff" stroke="#000" stroke-width="1.6" />
<text font-size="7" x="547.00" y="421.40" >2</text>
<text font-size="7" x="592.60" y="421.40" >1</text>
<text font-size="7" x="592.60" y="480.00" >3</text>
<text font-size="7" x="536 539.63 541.94" y="478.00" >T 7</text>
<text font-size="7" x="536 539.63 543.93 548.23 552.53 554.84 558.8 560.46 565.09 569.38 573.35" y="486.00" >TURN SIGNAL</text>
<text font-size="7" x="536 539.63 542.94 546.91 550.88 555.18 559.15 563.44 565.75 570.05 574.02 577.33 581.3" y="493.40" >FLASHER RELAY</text>
<rect x="636.60" y="425.00" width="84.00" height="46.00" fill="#fff" stroke="#000" stroke-width="1.6" />
<path d="M659.50 425.50 L659.50 470.50" fill="none" stroke="#444" stroke-width="0.9" />
<path d="M697.50 425.50 L697.50 463.50 L659.60 463.50" fill="none" stroke="#444" stroke-width="0.9" />
<circle cx="659.60" cy="448.00" r="7.30" fill="#fff" stroke="#000" stroke-width="1.8"/>
<path d="M659.50 440.60 L659.50 444.20" fill="none" stroke="#666" stroke-width="0.8" />
<path d="M659.50 451.80 L659.50 455.40" fill="none" stroke="#666" stroke-width="0.8" />
<path d="M659.50 444.10 C663.00 444.80 663.00 451.20 659.50 451.90" fill="none" stroke="#222" stroke-width="0.8"/>
<ellipse cx="658.80" cy="448.00" rx="1.9" ry="1.35" fill="none" stroke="#333" stroke-width="0.75"/>
<circle cx="697.60" cy="448.00" r="7.30" fill="#fff" stroke="#000" stroke-width="1.8"/>
<path d="M697.50 440.60 L697.50 444.20" fill="none" stroke="#666" stroke-width="0.8" />
<path d="M697.50 451.80 L697.50 455.40" fill="none" stroke="#666" stroke-width="0.8" />
<path d="M697.50 444.10 C701.00 444.80 701.00 451.20 697.50 451.90" fill="none" stroke="#222" stroke-width="0.8"/>
<ellipse cx="696.80" cy="448.00" rx="1.9" ry="1.35" fill="none" stroke="#333" stroke-width="0.75"/>
<circle cx="659.60" cy="463.40" r="1.75" fill="#000"/>
<text font-size="7" x="643 646.31" y="447.60" >LH</text>
<text font-size="7" x="680.4 684.7" y="447.60" >RH</text>
<text font-size="7" x="650.6 653.91" y="421.60" >10</text>
<text font-size="7" x="692.00" y="421.60" >9</text>
<text font-size="7" x="650.2 653.51" y="479.40" >21</text>
<text font-size="7" x="679.4 683.7 686.01" y="478.40" >C 9</text>
<text font-size="7" x="679.4 683.03 687.33 691.63 695.93 698.24 702.2 703.86 708.49 712.78 716.75" y="486.00" >TURN SIGNAL</text>
<text font-size="7" x="679.4 681.05 685.35 689.65 691.3 695.6 699.57 703.2 707.83 712.13 714.44 717.74 719.4 724.03 728.32" y="493.40" >INDICATOR LIGHT</text>
<text font-size="7" x="679.4 681.05 685.35 689.98 694.93 698.9 700.56 702.87 705.18 710.13 714.1 717.74 721.7 726" y="501.00" >[COMB.  METER]</text>
<text font-size="7" transform="translate(601.60 499.00) rotate(90)" x="-6.94 -1.33 2.28" y="0.00" >W-B</text>
<text font-size="7" transform="translate(662.20 499.00) rotate(90)" x="-6.94 -1.33 2.28" y="0.00" >W-B</text>
<polygon points="599.00,535.40 600.20,535.40 602.10,538.00 602.10,542.00 599.00,540.00 595.90,542.00 595.90,538.00 597.80,535.40" fill="#000"/>
<polygon points="599.00,552.80 600.20,552.80 602.10,550.20 602.10,546.20 599.00,548.20 595.90,546.20 595.90,550.20 597.80,552.80" fill="#000"/>
<polygon points="659.60,535.40 660.80,535.40 662.70,538.00 662.70,542.00 659.60,540.00 656.50,542.00 656.50,538.00 658.40,535.40" fill="#000"/>
<polygon points="659.60,552.80 660.80,552.80 662.70,550.20 662.70,546.20 659.60,548.20 656.50,546.20 656.50,550.20 658.40,552.80" fill="#000"/>
<rect x="591.75" y="525.35" width="14.5" height="9.7" rx="4.85" fill="#cbcbcb" stroke="#000" stroke-width="1.6"/>
<text font-size="7" x="595.01 598.32" y="532.70" >3A</text>
<text font-size="7" x="582.95 586.26" y="532.70" >21</text>
<rect x="591.75" y="553.15" width="14.5" height="9.7" rx="4.85" fill="#cbcbcb" stroke="#000" stroke-width="1.6"/>
<text font-size="7" x="595.01 598.32" y="560.50" >3B</text>
<text font-size="7" x="582.95 586.26" y="560.50" >21</text>
<rect x="652.35" y="525.35" width="14.5" height="9.7" rx="4.85" fill="#cbcbcb" stroke="#000" stroke-width="1.6"/>
<text font-size="7" x="655.22 658.53" y="532.70" >3G</text>
<text font-size="7" x="646.86" y="532.70" >7</text>
<rect x="652.35" y="553.15" width="14.5" height="9.7" rx="4.85" fill="#cbcbcb" stroke="#000" stroke-width="1.6"/>
<text font-size="7" x="655.61 658.92" y="560.50" >3A</text>
<text font-size="7" x="646.86" y="560.50" >7</text>
<text font-size="7" transform="translate(601.60 584.00) rotate(90)" x="-6.94 -1.33 2.28" y="0.00" >W-B</text>
<text font-size="7" transform="translate(601.60 629.00) rotate(90)" x="-6.94 -1.33 2.28" y="0.00" >W-B</text>
<rect x="591.60" y="601.00" width="14.80" height="15.20" fill="#fff" stroke="#000" stroke-width="1.7" />
<path d="M599.50 601.50 L599.50 616.00" fill="none" stroke="#444" stroke-width="0.9" />
<path d="M599.00 608.50 L606.00 608.50" fill="none" stroke="#444" stroke-width="0.9" />
<circle cx="599.00" cy="608.50" r="1.75" fill="#000"/>
<text font-size="7" x="549 551.98 554.28" y="597.00" >J 5</text>
<text font-size="7" x="549 551.98 556.27 560.57 564.87 568.5 570.15 574.78" y="604.40" >JUNCTION</text>
<text font-size="7" x="549 553.3 557.92 562.22 566.52 570.49 574.78 578.42 583.05" y="612.00" >CONNECTOR</text>
<text font-size="7" x="592.20" y="597.60" >A</text>
<text font-size="7" x="608.80" y="605.00" >A</text>
<text font-size="7" x="592.20" y="625.60" >A</text>
<text font-size="7" x="630.46 636.07 639.68" y="606.00" >W-B</text>
<text font-size="7" x="612 616.3 619.61 623.9 625.22 627.53 630.51 631.83 635.14" y="646.00" >Cowl side</text>
<text font-size="7" x="612 615.31 618.62 621.93 625.24 626.56 628.87 632.18" y="653.40" >panel LH</text>
<polygon points="586.50,639.4 611.50,639.4 599.00,657.4" fill="#fff" stroke="#000" stroke-width="1.4" stroke-linejoin="miter"/>
<text font-size="7" x="595.45 597.1" y="647.60" >IG</text>
<path d="M599.00 657.40 L599.00 661.40" fill="none" stroke="#000" stroke-width="1.0" />
<path d="M591.40 661.50 L606.60 661.50" fill="none" stroke="#111" stroke-width="0.9" />
<path d="M594.80 664.50 L603.20 664.50" fill="none" stroke="#444" stroke-width="0.9" />
<path d="M596.40 666.50 L601.60 666.50" fill="none" stroke="#666" stroke-width="0.9" />
<path d="M597.80 668.50 L600.20 668.50" fill="none" stroke="#888" stroke-width="0.9" />
</g>
<g id="lamps">
<circle cx="758.60" cy="509.00" r="7.50" fill="#fff" stroke="#000" stroke-width="1.8"/>
<path d="M758.50 501.40 L758.50 505.20" fill="none" stroke="#666" stroke-width="0.8" />
<path d="M758.50 512.80 L758.50 516.60" fill="none" stroke="#666" stroke-width="0.8" />
<path d="M758.50 505.10 C762.00 505.80 762.00 512.20 758.50 512.90" fill="none" stroke="#222" stroke-width="0.8"/>
<ellipse cx="757.80" cy="509.00" rx="1.9" ry="1.35" fill="none" stroke="#333" stroke-width="0.75"/>
<circle cx="804.40" cy="509.00" r="7.50" fill="#fff" stroke="#000" stroke-width="1.8"/>
<path d="M804.50 501.40 L804.50 505.20" fill="none" stroke="#666" stroke-width="0.8" />
<path d="M804.50 512.80 L804.50 516.60" fill="none" stroke="#666" stroke-width="0.8" />
<path d="M804.50 505.10 C808.00 505.80 808.00 512.20 804.50 512.90" fill="none" stroke="#222" stroke-width="0.8"/>
<ellipse cx="803.80" cy="509.00" rx="1.9" ry="1.35" fill="none" stroke="#333" stroke-width="0.75"/>
<text font-size="7" x="753.00" y="497.60" >3</text>
<text font-size="7" x="753.00" y="526.00" >2</text>
<text font-size="7" x="798.80" y="497.60" >3</text>
<text font-size="7" x="798.80" y="526.00" >2</text>
<text font-size="7" transform="translate(784.60 478.00) rotate(90)" x="0 3.63 5.94" y="0.00" >F 3</text>
<text font-size="7" transform="translate(777.00 478.00) rotate(90)" x="0 3.63 7.93 12.56 16.86 20.49 22.8 26.44 30.73 35.03 39.33 41.64 45.6 47.26 51.89 56.18 60.15" y="0.00" >FRONT TURN SIGNAL</text>
<text font-size="7" transform="translate(769.60 478.00) rotate(90)" x="0 3.31 4.96 9.59 13.89 17.52 19.83 23.14" y="0.00" >LIGHT LH</text>
<text font-size="7" transform="translate(830.40 478.00) rotate(90)" x="0 3.63 5.94" y="0.00" >F 4</text>
<text font-size="7" transform="translate(822.80 478.00) rotate(90)" x="0 3.63 7.93 12.56 16.86 20.49 22.8 26.44 30.73 35.03 39.33 41.64 45.6 47.26 51.89 56.18 60.15" y="0.00" >FRONT TURN SIGNAL</text>
<text font-size="7" transform="translate(815.40 478.00) rotate(90)" x="0 3.31 4.96 9.59 13.89 17.52 19.83 24.13" y="0.00" >LIGHT RH</text>
<rect x="842.40" y="493.60" width="30.60" height="31.40" fill="#fff" stroke="#000" stroke-width="1.5" />
<rect x="895.60" y="493.60" width="30.80" height="31.40" fill="#fff" stroke="#000" stroke-width="1.5" />
<path d="M857.50 494.00 L857.50 524.60" fill="none" stroke="#555" stroke-width="0.9" />
<path d="M911.50 494.00 L911.50 524.60" fill="none" stroke="#555" stroke-width="0.9" />
<circle cx="857.60" cy="509.00" r="7.50" fill="#fff" stroke="#000" stroke-width="1.8"/>
<path d="M857.50 501.40 L857.50 505.20" fill="none" stroke="#666" stroke-width="0.8" />
<path d="M857.50 512.80 L857.50 516.60" fill="none" stroke="#666" stroke-width="0.8" />
<path d="M857.50 505.10 C861.00 505.80 861.00 512.20 857.50 512.90" fill="none" stroke="#222" stroke-width="0.8"/>
<ellipse cx="856.80" cy="509.00" rx="1.9" ry="1.35" fill="none" stroke="#333" stroke-width="0.75"/>
<circle cx="911.00" cy="509.00" r="7.50" fill="#fff" stroke="#000" stroke-width="1.8"/>
<path d="M911.50 501.40 L911.50 505.20" fill="none" stroke="#666" stroke-width="0.8" />
<path d="M911.50 512.80 L911.50 516.60" fill="none" stroke="#666" stroke-width="0.8" />
<path d="M911.50 505.10 C915.00 505.80 915.00 512.20 911.50 512.90" fill="none" stroke="#222" stroke-width="0.8"/>
<ellipse cx="910.80" cy="509.00" rx="1.9" ry="1.35" fill="none" stroke="#333" stroke-width="0.75"/>
<text font-size="7" x="852.80" y="490.00" >4</text>
<text font-size="7" x="852.80" y="533.60" >6</text>
<text font-size="7" x="906.00" y="490.00" >4</text>
<text font-size="7" x="906.00" y="533.60" >6</text>
<text font-size="7" transform="translate(891.00 472.40) rotate(90)" x="0 4.3 6.61" y="0.00" >R 7</text>
<text font-size="7" transform="translate(883.40 472.40) rotate(90)" x="0 4.3 8.27 12.23 16.53 18.84 22.48 26.77 31.07 35.37 37.68 41.65 43.3 47.93 52.22 56.19 59.5 61.81 65.12 66.77 71.4 75.7 79.33 81.64 84.95" y="0.00" >REAR TURN SIGNAL LIGHT LH</text>
<text font-size="7" transform="translate(875.80 472.40) rotate(90)" x="0 1.65 5.95 9.92 13.89 18.18 20.49 24.79 29.42 34.38 38.34 40 42.31 44.62 47.93 49.58 54.21 58.5 62.14 64.45 67.76 72.06" y="0.00" >[REAR COMB.  LIGHT LH]</text>
<text font-size="7" transform="translate(944.60 472.40) rotate(90)" x="0 4.3 6.61" y="0.00" >R 8</text>
<text font-size="7" transform="translate(937.00 472.40) rotate(90)" x="0 4.3 8.27 12.23 16.53 18.84 22.48 26.77 31.07 35.37 37.68 41.65 43.3 47.93 52.22 56.19 59.5 61.81 65.12 66.77 71.4 75.7 79.33 81.64 85.94" y="0.00" >REAR TURN SIGNAL LIGHT RH</text>
<text font-size="7" transform="translate(929.40 472.40) rotate(90)" x="0 1.65 5.95 9.92 13.89 18.18 20.49 24.79 29.42 34.38 38.34 40 42.31 44.62 47.93 49.58 54.21 58.5 62.14 64.45 68.75 73.04" y="0.00" >[REAR COMB.  LIGHT RH]</text>
<text font-size="7" transform="translate(761.20 570.60) rotate(90)" x="-6.94 -1.33 2.28" y="0.00" >W-B</text>
<text font-size="7" transform="translate(807.00 570.60) rotate(90)" x="-6.94 -1.33 2.28" y="0.00" >W-B</text>
<text font-size="7" transform="translate(860.20 570.60) rotate(90)" x="-6.94 -1.33 2.28" y="0.00" >W-B</text>
<text font-size="7" transform="translate(913.60 570.60) rotate(90)" x="-6.94 -1.33 2.28" y="0.00" >W-B</text>
<text font-size="7" transform="translate(913.60 624.00) rotate(90)" x="-6.94 -1.33 2.28" y="0.00" >W-B</text>
<rect x="796.60" y="616.40" width="15.40" height="15.00" fill="#fff" stroke="#000" stroke-width="1.7" />
<path d="M804.50 617.00 L804.50 631.00" fill="none" stroke="#555" stroke-width="0.8" />
<path d="M804.40 631.40 L804.40 639.40" fill="none" stroke="#000" stroke-width="1.4" />
<text font-size="7" x="798.00" y="613.00" >A</text>
<text font-size="7" x="814 816.98 819.28" y="619.60" >J 9</text>
<text font-size="7" x="814 816.98 821.27 825.57 829.87 833.5 835.15 839.78" y="627.00" >JUNCTION</text>
<text font-size="7" x="814 818.3 822.92 827.22 831.52 835.49 839.78 843.42 848.05" y="634.60" >CONNECTOR</text>
<rect x="903.60" y="593.40" width="15.40" height="15.20" fill="#fff" stroke="#000" stroke-width="1.7" />
<path d="M911.50 594.00 L911.50 608.00" fill="none" stroke="#444" stroke-width="0.9" />
<path d="M904.00 601.50 L911.00 601.50" fill="none" stroke="#444" stroke-width="0.9" />
<circle cx="911.00" cy="601.00" r="1.75" fill="#000"/>
<text font-size="7" x="904.00" y="590.00" >C</text>
<text font-size="7" x="897.00" y="597.60" >C</text>
<text font-size="7" x="904.00" y="617.40" >C</text>
<text font-size="7" transform="translate(937.00 583.00) rotate(90)" x="0 2.98 6.28" y="0.00" >J12</text>
<text font-size="7" transform="translate(929.60 583.00) rotate(90)" x="0 2.98 7.27 11.57 15.87 19.5 21.15 25.78" y="0.00" >JUNCTION</text>
<text font-size="7" transform="translate(922.20 583.00) rotate(90)" x="0 4.3 8.92 13.22 17.52 21.49 25.78 29.42 34.05" y="0.00" >CONNECTOR</text>
<text font-size="7" x="709.92 713.56 715.54 718.85 722.16 723.81 726.12 729.1 730.42 733.73 737.04 739.35 742.66" y="645.60" >Front side of</text>
<text font-size="7" x="710 711.32 714.63 716.28 717.94 720.25 721.9 725.21 728.52 731.83 735.14" y="653.40" >left fender</text>
<text font-size="7" x="817.4 821.7 825.01 829.3 830.62 832.93 835.91 837.23 840.54" y="645.60" >Cowl side</text>
<text font-size="7" x="817.4 820.71 824.02 827.33 830.64 831.96 834.27 838.57" y="653.40" >panel RH</text>
<text font-size="7" x="924 927.97 931.28 934.25" y="645.60" >Back</text>
<text font-size="7" x="924 927.31 930.62 933.93 937.24" y="653.40" >panel</text>
<text font-size="7" x="924 926.98 930.28 933.59 935.25 938.56" y="660.60" >center</text>
<polygon points="746.10,639.4 771.10,639.4 758.60,657.4" fill="#fff" stroke="#000" stroke-width="1.4" stroke-linejoin="miter"/>
<text font-size="7" x="754.09 758.06" y="647.60" >ED</text>
<path d="M758.60 657.40 L758.60 661.40" fill="none" stroke="#000" stroke-width="1.0" />
<path d="M751.00 661.50 L766.20 661.50" fill="none" stroke="#111" stroke-width="0.9" />
<path d="M754.40 664.50 L762.80 664.50" fill="none" stroke="#444" stroke-width="0.9" />
<path d="M756.00 666.50 L761.20 666.50" fill="none" stroke="#666" stroke-width="0.9" />
<path d="M757.40 668.50 L759.80 668.50" fill="none" stroke="#888" stroke-width="0.9" />
<polygon points="791.90,639.4 816.90,639.4 804.40,657.4" fill="#fff" stroke="#000" stroke-width="1.4" stroke-linejoin="miter"/>
<text font-size="7" x="801.82 803.48" y="647.60" >IJ</text>
<path d="M804.40 657.40 L804.40 661.40" fill="none" stroke="#000" stroke-width="1.0" />
<path d="M796.80 661.50 L812.00 661.50" fill="none" stroke="#111" stroke-width="0.9" />
<path d="M800.20 664.50 L808.60 664.50" fill="none" stroke="#444" stroke-width="0.9" />
<path d="M801.80 666.50 L807.00 666.50" fill="none" stroke="#666" stroke-width="0.9" />
<path d="M803.20 668.50 L805.60 668.50" fill="none" stroke="#888" stroke-width="0.9" />
<polygon points="898.50,639.4 923.50,639.4 911.00,657.4" fill="#fff" stroke="#000" stroke-width="1.4" stroke-linejoin="miter"/>
<text font-size="7" x="906.1 910.07" y="647.60" >BM</text>
<path d="M911.00 657.40 L911.00 661.40" fill="none" stroke="#000" stroke-width="1.0" />
<path d="M903.40 661.50 L918.60 661.50" fill="none" stroke="#111" stroke-width="0.9" />
<path d="M906.80 664.50 L915.20 664.50" fill="none" stroke="#444" stroke-width="0.9" />
<path d="M908.40 666.50 L913.60 666.50" fill="none" stroke="#666" stroke-width="0.9" />
<path d="M909.80 668.50 L912.20 668.50" fill="none" stroke="#888" stroke-width="0.9" />
</g>
</svg>
</body>
</html>
